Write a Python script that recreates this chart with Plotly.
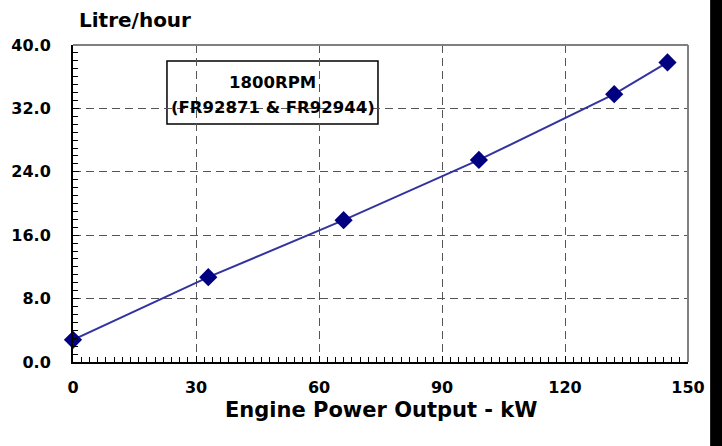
import plotly.graph_objects as go

power_kw = [0, 33, 66, 99, 132, 145]
fuel_lph = [2.8, 10.7, 17.9, 25.5, 33.8, 37.8]
y_ticks = [0, 8, 16, 24, 32, 40]
y_tick_labels = ["0.0", "8.0", "16.0", "24.0", "32.0", "40.0"]
x_ticks = [0, 30, 60, 90, 120, 150]

FONT = "DejaVu Sans, sans-serif"

fig = go.Figure()
fig.add_trace(go.Scatter(
    x=power_kw, y=fuel_lph, mode="lines+markers",
    line=dict(color="#3333a0", width=2),
    marker=dict(symbol="diamond", size=14, color="#000080"),
    showlegend=False, cliponaxis=False,
))

fig.update_layout(
    width=722, height=446,
    margin=dict(l=73, r=34, t=45, b=84, autoexpand=False),
    paper_bgcolor="white", plot_bgcolor="white",
    font=dict(family=FONT, color="black"),
    xaxis=dict(
        range=[0, 150], tickvals=x_ticks, ticktext=[f"<b>{v}</b>" for v in x_ticks],
        showgrid=True, gridcolor="#555555", griddash="8px,5px", gridwidth=1,
        showline=True, linecolor="black", linewidth=2, mirror=False,
        ticks="inside", ticklen=6, tickcolor="black", tickwidth=1,
        minor=dict(dtick=2, ticks="inside", ticklen=5, tickcolor="black", showgrid=False),
        tickfont=dict(size=16, family=FONT),
        ticklabelstandoff=10, automargin=False,
        zeroline=False,
    ),
    yaxis=dict(
        range=[0, 40], tickvals=y_ticks, ticktext=[f"<b>{t}</b>" for t in y_tick_labels],
        showgrid=True, gridcolor="#555555", griddash="8px,5px", gridwidth=1,
        showline=True, linecolor="black", linewidth=2, mirror=False,
        ticks="inside", ticklen=6, tickcolor="black", tickwidth=1,
        minor=dict(dtick=1, ticks="inside", ticklen=5, tickcolor="black", showgrid=False),
        tickfont=dict(size=16, family=FONT),
        ticklabelstandoff=17, automargin=False,
        zeroline=False,
    ),
    annotations=[
        dict(text="<b>Litre/hour</b>", xref="paper", yref="paper", x=0.0065, y=1.079,
             xanchor="left", yanchor="middle", showarrow=False,
             font=dict(size=20, family=FONT)),
        dict(text="<b>Engine Power Output - kW</b>", xref="paper", yref="paper", x=0.501, y=-0.151,
             xanchor="center", yanchor="middle", showarrow=False,
             font=dict(size=21, family=FONT)),
        dict(text="<b>1800RPM</b>", xref="paper", yref="paper",
             x=0.3244, y=0.882, xanchor="center", yanchor="middle", showarrow=False,
             font=dict(size=16.5, family=FONT)),
        dict(text="<b>(FR92871 & FR92944)</b>", xref="paper", yref="paper",
             x=0.3244, y=0.8013, xanchor="center", yanchor="middle", showarrow=False,
             font=dict(size=16.5, family=FONT)),
    ],
    shapes=[
        dict(type="rect", xref="paper", yref="paper", x0=0.1528, x1=0.4959, y0=0.7508, y1=0.9495,
             line=dict(color="black", width=1.5), fillcolor="white", layer="below"),
        dict(type="line", xref="paper", yref="paper", x0=0, x1=1, y0=1, y1=1,
             line=dict(color="#808080", width=2)),
        dict(type="line", xref="paper", yref="paper", x0=1, x1=1, y0=0, y1=1,
             line=dict(color="#808080", width=2)),
        dict(type="rect", xref="paper", yref="paper", x0=1.036, x1=1.1, y0=-0.3, y1=1.2,
             line=dict(width=0), fillcolor="black", layer="above"),
    ],
)

fig.write_html(
    "out.html",
    config={"displayModeBar": False},
    post_script=(
        "document.documentElement.style.margin='0';"
        "document.documentElement.style.overflow='hidden';"
        "document.body.style.margin='0';"
        "document.body.style.overflow='hidden';"
    ),
)
